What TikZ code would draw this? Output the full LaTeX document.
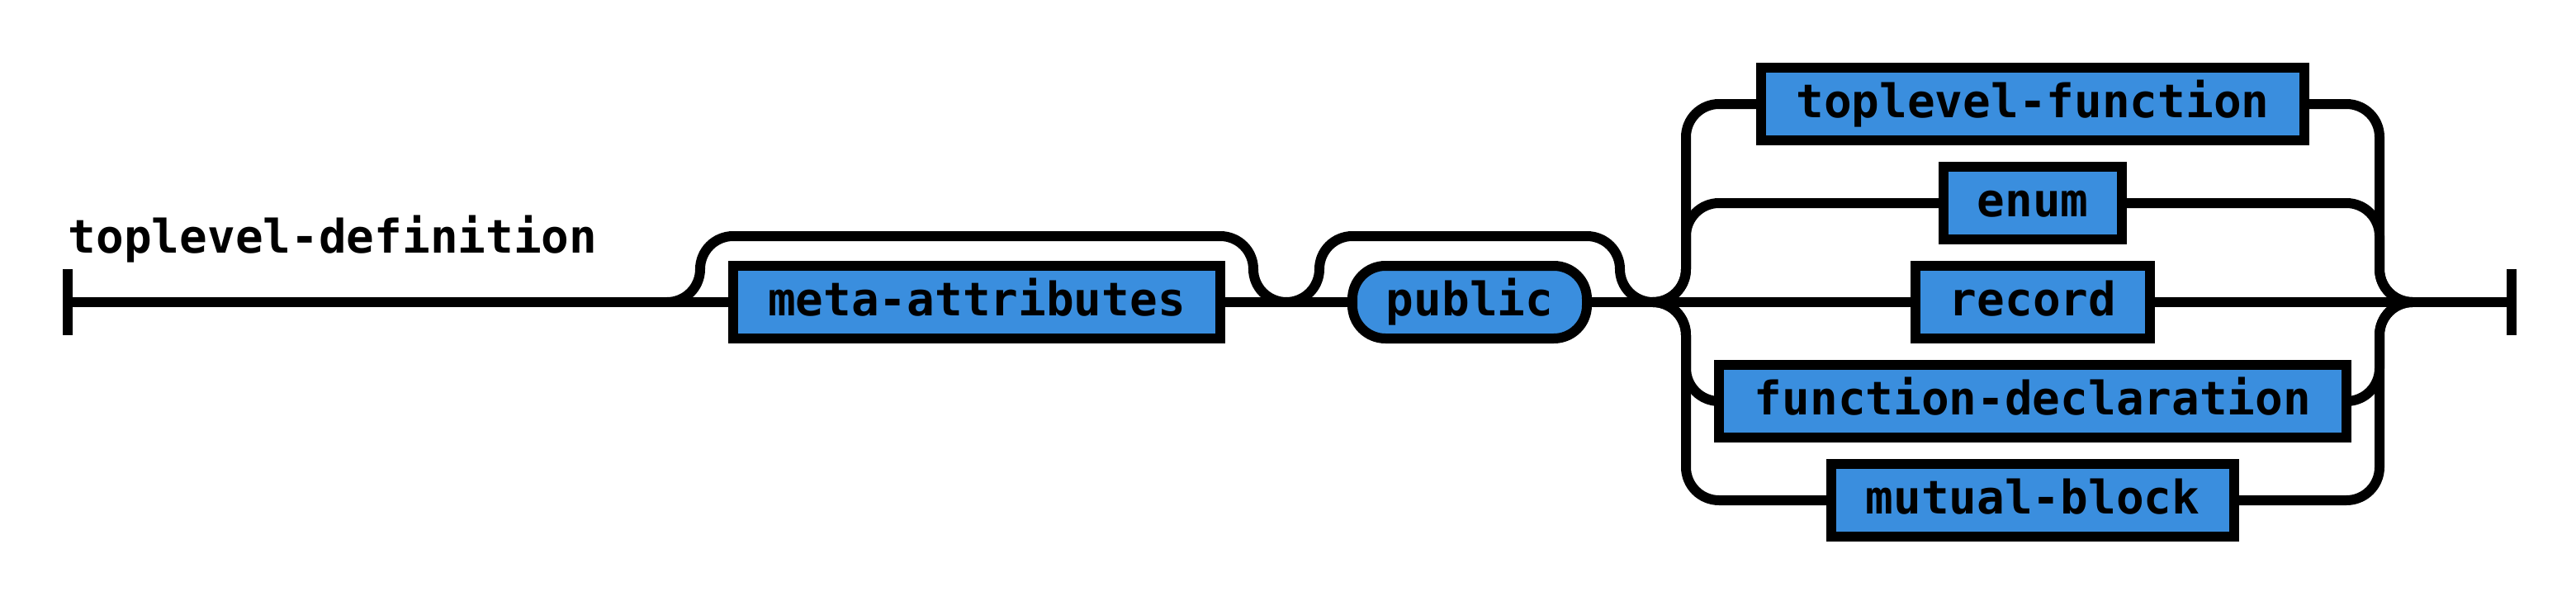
\documentclass[tikz,border=0pt]{standalone}
\usepackage{fontspec}
\newfontfamily\rrmono{DejaVu Sans Mono}
\newcommand\rrtext{\rrmono\bfseries\fontsize{14pt}{16pt}\selectfont}
\definecolor{rrblue}{RGB}{58,142,222}
\pgfdeclarelayer{rails}
\pgfsetlayers{rails,main}
\tikzset{
  rail/.style={line width=3pt, rounded corners=10pt},
  bar/.style={line width=3pt},
  rrbox/.style={draw, line width=3pt, fill=rrblue, minimum height=22pt,
    inner sep=0pt, outer sep=0pt, text height=8pt, text depth=0pt, font=\rrtext},
  nterm/.style={rrbox},
  term/.style={rrbox, rounded corners=10pt},
  lbl/.style={anchor=base west, inner sep=0pt, font=\rrtext}
}
\begin{document}
\begin{tikzpicture}[x=1pt,y=-1pt]
\useasboundingbox (0,0) rectangle (780,182);

% coordinates
\coordinate (st) at (20.5,91.5);
\coordinate (en) at (760.5,91.5);
\coordinate (o1) at (202,91.5);
\coordinate (o2) at (389.5,91.5);
\coordinate (c0) at (500.5,91.5);
\coordinate (c1) at (730.5,91.5);

% label
\node[lbl] (title) at (20.5,76.5) {toplevel-definition};

% nodes
\node[nterm, minimum width=147.5pt] (meta) at (295.75,91.5) {meta-attributes};
\node[term, minimum width=71pt] (pub) at (445,91.5) {public};
\node[nterm, minimum width=164.5pt] (tf) at (615.5,31.5) {toplevel-function};
\node[nterm, minimum width=54pt] (enum) at (615.5,61.5) {enum};
\node[nterm, minimum width=71pt] (rec) at (615.5,91.5) {record};
\node[nterm, minimum width=190pt] (fd) at (615.5,121.5) {function-declaration};
\node[nterm, minimum width=122pt] (mb) at (615.5,151.5) {mutual-block};

\begin{pgfonlayer}{rails}
\fill[white] (0,0) rectangle (780,182);

% start / end bars
\draw[bar] (20.5,81.5) -- (20.5,101.5);
\draw[bar] (760.5,81.5) -- (760.5,101.5);

% main line
\draw[rail] (st) -- (meta.west);
\draw[rail] (meta.east) -- (pub.west);
\draw[rail] (pub.east) -- (rec.west);
\draw[rail] (rec.east) -- (en);

% optional loops
\draw[rail] (o1) -| (212,71.5) -| (379.5,91.5) -- (o2);
\draw[rail] (o2) -| (399.5,71.5) -| (490.5,91.5) -- (c0);

% choice branches
\draw[rail] (c0) -| (510.5,31.5) -- (tf.west);
\draw[rail] (tf.east) -| (720.5,91.5) -- (c1);
\draw[rail] (c0) -| (510.5,61.5) -- (enum.west);
\draw[rail] (enum.east) -| (720.5,91.5) -- (c1);
\draw[rail] (c0) -| (510.5,121.5) -- (fd.west);
\draw[rail] (fd.east) -| (720.5,91.5) -- (c1);
\draw[rail] (c0) -| (510.5,151.5) -- (mb.west);
\draw[rail] (mb.east) -| (720.5,91.5) -- (c1);
\end{pgfonlayer}
\end{tikzpicture}
\end{document}
